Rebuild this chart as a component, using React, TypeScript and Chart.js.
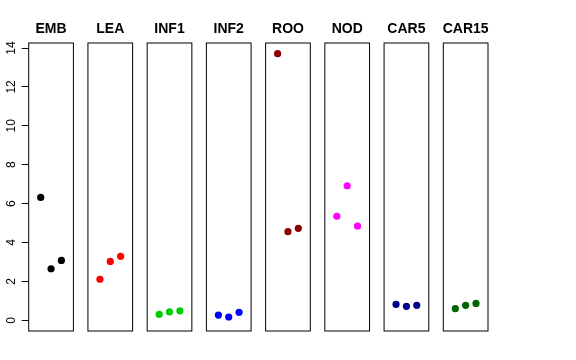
import React, { useEffect, useRef } from "react";
import { Chart, registerables } from "chart.js";

Chart.register(...registerables);

const panels = ["EMB", "LEA", "INF1", "INF2", "ROO", "NOD", "CAR5", "CAR15"];
const colors = ["#000000", "#FF0000", "#00CD00", "#0000FF", "#8B0000", "#FF00FF", "#00008B", "#006400"];
const EMB = [6.32, 2.65, 3.08];
const LEA = [2.11, 3.03, 3.29];
const INF1 = [0.31, 0.43, 0.49];
const INF2 = [0.27, 0.17, 0.41];
const ROO = [13.71, 4.56, 4.73];
const NOD = [5.35, 6.92, 4.85];
const CAR5 = [0.82, 0.72, 0.77];
const CAR15 = [0.6, 0.77, 0.87];
const seriesValues = [EMB, LEA, INF1, INF2, ROO, NOD, CAR5, CAR15];
const yTicks = [0, 2, 4, 6, 8, 10, 12, 14];

const PITCH = 5.724;
const XPAD = 0.16;
const FONT = "'Liberation Sans', Arial, Helvetica, sans-serif";

export default function App() {
  const ref = useRef<HTMLCanvasElement>(null);
  useEffect(() => {
    const canvas = ref.current!;
    const datasets = seriesValues.map((vals, i) => ({
      label: panels[i],
      data: vals.map((v, j) => ({ x: i * PITCH + (j + 1), y: v })),
      backgroundColor: colors[i],
      borderWidth: 0,
      pointRadius: 3.6,
      showLine: false,
    }));
    const panelPlugin = {
      id: "panels",
      afterDraw(chart: any) {
        const ctx = chart.ctx;
        const xs = chart.scales.x;
        const area = chart.chartArea;
        ctx.save();
        ctx.strokeStyle = "#000";
        ctx.lineWidth = 1;
        panels.forEach((name, i) => {
          const l = xs.getPixelForValue(i * PITCH - XPAD);
          const r = xs.getPixelForValue(i * PITCH + 4 + XPAD);
          ctx.strokeRect(l, area.top, r - l, area.bottom - area.top);
          ctx.fillStyle = "#000";
          ctx.font = `bold 14px ${FONT}`;
          ctx.textAlign = "center";
          ctx.textBaseline = "middle";
          ctx.fillText(name, (l + r) / 2, 29);
        });
        ctx.restore();
      },
    };
    const chart = new Chart(canvas, {
      type: "scatter",
      data: { datasets },
      options: {
        animation: false,
        responsive: false,
        maintainAspectRatio: false,
        layout: { padding: { left: 0, top: 43, right: 88, bottom: 29 } },
        plugins: { legend: { display: false }, tooltip: { enabled: false } },
        scales: {
          x: {
            type: "linear",
            display: false,
            min: -XPAD,
            max: 7 * PITCH + 4 + XPAD,
          },
          y: {
            type: "linear",
            min: -0.55,
            max: 14.26,
            afterBuildTicks: (s: any) => {
              s.ticks = yTicks.map((v) => ({ value: v }));
            },
            afterFit: (s: any) => {
              s.width = 28.7;
            },
            border: { display: false },
            grid: {
              drawOnChartArea: false,
              drawTicks: true,
              tickLength: 7,
              color: "#000",
            },
            ticks: {
              minRotation: 90,
              maxRotation: 90,
              crossAlign: "center",
              padding: 3,
              color: "#000",
              font: { family: FONT, size: 12 },
            },
          },
        },
      },
      plugins: [panelPlugin],
    });
    return () => chart.destroy();
  }, []);
  return (
    <div style={{ position: "absolute", left: 0, top: 0, width: 576, height: 360 }}>
      <canvas ref={ref} width={576} height={360} style={{ width: 576, height: 360 }} />
    </div>
  );
}
